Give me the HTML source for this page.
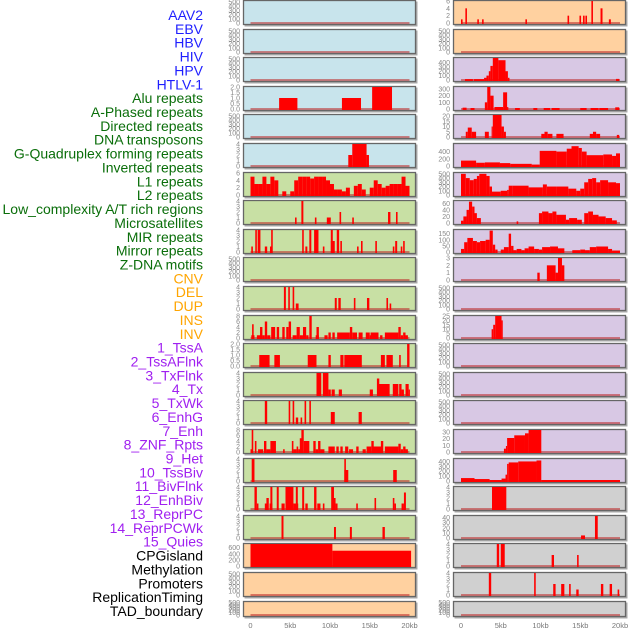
<!DOCTYPE html>
<html><head><meta charset="utf-8">
<style>
html,body{margin:0;padding:0;background:#fff;width:630px;height:630px;overflow:hidden}
svg{display:block;font-family:"Liberation Sans",sans-serif}
</style></head>
<body>
<svg id="chart" width="630" height="630" viewBox="0 0 630 630" xmlns="http://www.w3.org/2000/svg"></svg>
<script>
// ---- labels (column-major: left column 22, right column 22) ----
const labels = ["AAV2","EBV","HBV","HIV","HPV","HTLV-1","Alu repeats","A-Phased repeats","Directed repeats","DNA transposons","G-Quadruplex forming repeats","Inverted repeats","L1 repeats","L2 repeats","Low_complexity A/T rich regions","Microsatellites","MIR repeats","Mirror repeats","Z-DNA motifs","CNV","DEL","DUP","INS","INV","1_TssA","2_TssAFlnk","3_TxFlnk","4_Tx","5_TxWk","6_EnhG","7_Enh","8_ZNF_Rpts","9_Het","10_TssBiv","11_BivFlnk","12_EnhBiv","13_ReprPC","14_ReprPCWk","15_Quies","CPGisland","Methylation","Promoters","ReplicationTiming","TAD_boundary"];
const labelColors = ["#1f1fff","#1f1fff","#1f1fff","#1f1fff","#1f1fff","#1f1fff","#0a6e0a","#0a6e0a","#0a6e0a","#0a6e0a","#0a6e0a","#0a6e0a","#0a6e0a","#0a6e0a","#0a6e0a","#0a6e0a","#0a6e0a","#0a6e0a","#0a6e0a","#ffa500","#ffa500","#ffa500","#ffa500","#ffa500","#a020f0","#a020f0","#a020f0","#a020f0","#a020f0","#a020f0","#a020f0","#a020f0","#a020f0","#a020f0","#a020f0","#a020f0","#a020f0","#a020f0","#a020f0","#000","#000","#000","#000","#000"];
const panelBg = ["#c8e4ec","#c8e4ec","#c8e4ec","#c8e4ec","#c8e4ec","#c8e4ec","#c8e0a4","#c8e0a4","#c8e0a4","#c8e0a4","#c8e0a4","#c8e0a4","#c8e0a4","#c8e0a4","#c8e0a4","#c8e0a4","#c8e0a4","#c8e0a4","#c8e0a4","#ffd1a0","#ffd1a0","#ffd1a0","#ffd1a0","#ffd1a0","#d8c8e4","#d8c8e4","#d8c8e4","#d8c8e4","#d8c8e4","#d8c8e4","#d8c8e4","#d8c8e4","#d8c8e4","#d8c8e4","#d8c8e4","#d8c8e4","#d8c8e4","#d8c8e4","#d8c8e4","#d0d0d0","#d0d0d0","#d0d0d0","#d0d0d0","#d0d0d0"];
const xTickValues = [0,5,10,15,20];
const xTickLabels = ["0","5kb","10kb","15kb","20kb"];

// ---- y ranges / tick labels per panel ----
const emptyTicks = [0,100,200,300,400,500];
const yMax = [520,520,520,2,520,4,6,4,4,520,4,8,2,4,4,8,4,4,4,720,520,520,6,520,500,330,21,610,520,67,180,3,520,25,520,520,520,33,450,4,43,4,4,520];
const yTicks = [emptyTicks,emptyTicks,emptyTicks,[0.0,0.5,1.0,1.5,2.0],emptyTicks,[0,1,2,3,4],[0,2,4,6],[0,1,2,3,4],[0,1,2,3,4],emptyTicks,[0,1,2,3,4],[0,2,4,6,8],[0.0,0.5,1.0,1.5,2.0],[0,1,2,3,4],[0,1,2,3,4],[0,2,4,6,8],[0,1,2,3,4],[0,1,2,3,4],[0,1,2,3,4],[0,200,400,600],emptyTicks,emptyTicks,[0,2,4,6],emptyTicks,[0,100,200,300,400],[0,100,200,300],[0,5,10,15,20],[0,200,400],[0,100,200,300,400,500],[0,20,40,60],[0,50,100,150],[0,1,2,3],emptyTicks,[0,5,10,15,20,25],emptyTicks,emptyTicks,emptyTicks,[0,10,20,30],[0,100,200,300,400],[0,1,2,3,4],[0,10,20,30,40],[0,1,2,3,4],[0,1,2,3,4],emptyTicks];
const decimalTicks = [3,12];

// ---- series data: segments [startKb, endKb, value] ----
const segHIV = [[3.6,5.9,1],[11.5,13.9,1],[15.3,17.8,2]];
const segHTLV = [[12.3,12.8,2],[12.8,14.6,4],[14.6,14.9,2]];
const binsAlu = [5,3,3,5,3,5,4,0,1,0,1,4,5,5,5,4.5,5,5,5,4,3,1.5,1.5,1,2,0,2.5,3,1.5,0,2,4,3,2,2.5,3,3,3,5,2.5];
const segAPhased = [[5.6,5.8,1],[6.4,6.65,4],[8.1,8.3,1],[9.6,10.1,1],[11.2,11.4,2],[12.8,13.0,1],[17.3,17.6,2],[18.3,18.5,2]];
const segDirected = [[0.1,0.3,1],[0.6,0.8,4],[0.9,1.25,4],[1.8,2.1,1],[2.45,2.65,1],[2.6,2.8,4],[6.5,6.7,4],[6.9,7.15,1],[7.4,7.65,4],[8.0,8.55,4],[9.1,9.3,1],[10.1,10.35,4],[10.1,10.6,2],[10.85,11.15,4],[11.3,11.5,2],[13.4,13.6,1],[13.9,14.1,2],[15.7,15.9,2],[17.9,18.1,1],[18.2,18.45,2],[18.9,19.1,1],[19.2,19.4,2]];
const segGQuad = [[4.2,4.45,4],[4.75,4.95,4],[5.3,5.5,4],[5.7,6.05,1],[10.6,10.85,2],[11.05,11.35,2],[13.0,13.2,2],[14.65,14.95,2],[17.1,17.3,2],[17.5,17.7,1]];
const segInverted = [[0.1,0.5,1],[0.2,0.4,5],[0.8,1.3,1],[1.2,1.5,4],[1.5,1.8,1],[1.8,2.1,6],[2.1,2.5,1],[2.6,3.1,4],[3.3,3.6,4],[4.0,4.3,4],[4.5,4.8,4],[4.8,5.1,6],[5.3,5.8,1],[5.8,6.2,4],[6.2,6.6,1],[6.6,7.0,4],[7.0,7.3,1],[7.4,7.7,8],[8.2,8.6,1],[8.3,8.6,4],[9.3,9.7,1],[9.8,10.1,2],[10.3,10.6,2],[10.9,12.5,2],[12.5,12.8,4],[12.8,13.4,2],[13.6,14.1,2],[14.5,15.0,2],[15.0,15.3,1],[15.1,16.1,2],[16.3,16.6,1],[16.9,18.6,2],[18.6,18.9,4],[18.9,19.2,1],[19.2,19.5,2],[19.5,19.8,1]];
const segL1 = [[1.1,2.4,1],[3.0,3.7,1],[7.2,8.3,1],[9.8,10.1,1],[11.3,11.7,1],[11.8,14.0,1],[16.4,16.9,1],[17.1,17.9,1],[18.7,18.9,1],[19.7,20.0,2]];
const segL2 = [[8.3,8.9,4],[9.1,9.8,4],[9.8,10.1,1],[10.2,10.6,1],[11.1,11.5,1],[15.0,15.4,1],[15.9,16.2,3],[16.0,17.5,2],[17.9,18.6,2],[18.7,19.0,2],[19.0,19.3,1],[19.5,19.9,2],[19.9,20.0,1]];
const segLowComplex = [[1.8,2.1,4],[4.8,5.0,4],[5.3,5.5,4],[5.7,6.0,1],[6.3,6.5,1],[6.8,7.0,4],[7.4,7.6,4],[10.1,10.6,2],[13.6,14.0,2]];
const segMicrosat = [[0.0,0.2,1],[0.15,0.35,8],[0.55,0.75,4],[0.95,1.6,1],[1.7,2.0,4],[2.0,2.5,1],[2.5,3.2,4],[4.1,4.3,1],[5.2,5.4,4],[5.4,5.8,1],[5.8,6.0,2],[6.0,6.3,1],[6.2,6.5,5],[6.4,6.7,8],[6.7,7.4,4],[7.9,8.2,4],[8.2,8.5,1],[8.5,8.8,4],[8.8,9.3,1],[9.8,10.6,2],[10.8,11.1,2],[11.3,11.6,2],[11.9,12.3,2],[12.4,12.9,1],[13.3,13.6,2],[14.1,14.5,1],[14.6,15.2,2],[15.2,15.5,4],[15.4,16.5,2],[16.4,16.7,4],[16.9,18.6,2],[18.6,18.9,3],[18.9,19.2,1],[19.2,19.5,2],[19.5,19.8,1]];
const segMIR = [[0.15,0.5,4],[11.8,12.0,4],[11.8,12.3,2],[17.95,18.4,2]];
const segMirror = [[0.5,0.8,4],[0.8,1.0,1],[1.8,2.1,1],[2.0,2.3,2],[2.5,2.75,4],[2.4,2.75,1],[3.3,3.55,4],[3.9,4.3,1],[4.4,5.4,4],[5.4,6.0,1],[5.7,5.95,4],[6.5,6.75,4],[6.9,7.2,1],[8.0,8.3,4],[8.4,8.8,1],[9.1,9.3,1],[10.15,10.5,4],[10.4,10.7,2],[10.7,10.95,1],[13.3,13.5,1],[15.6,15.8,2],[17.9,18.1,2],[18.1,18.3,1],[19.0,19.3,1],[19.3,19.55,3]];
const segZDNA = [[3.9,4.15,4],[10.5,10.75,2],[12.5,12.75,2],[16.6,16.9,2]];
const segCNV = [[0.0,10.3,720],[10.3,20.2,500]];
const segINS = [[0.0,0.2,1],[0.55,0.75,4],[2.05,2.25,1],[2.65,2.85,1],[8.1,8.3,1],[13.4,13.6,2],[14.9,15.1,2],[15.35,15.55,2],[15.65,15.85,2],[16.4,16.6,6],[17.55,17.8,4],[18.6,18.85,1]];
const segTssA = [[0.5,1.5,20],[1.6,2.9,20],[2.9,3.2,50],[3.2,3.5,100],[3.5,3.7,200],[3.7,4.0,320],[4.0,4.7,500],[4.7,5.6,450],[5.6,5.9,200],[5.9,6.1,50],[19.5,19.9,25]];
const segTssAFlnk = [[0.2,0.7,20],[1.2,1.7,15],[3.0,3.3,100],[3.3,3.7,330],[3.7,4.1,200],[4.2,5.3,30],[5.3,5.8,250],[5.8,5.95,30],[6.8,7.4,15],[9.1,9.6,15],[10.4,11.2,15],[11.4,12.4,15],[15.0,15.8,15],[16.3,17.3,15],[17.4,18.5,15],[19.4,19.9,25]];
const segTxFlnk = [[0.6,0.85,5],[0.85,1.35,9],[1.35,1.9,5],[3.0,3.5,5],[3.85,4.0,10],[4.0,5.1,21],[5.1,5.4,10],[5.4,5.65,5],[10.1,10.5,3],[10.5,10.9,5],[10.9,11.5,3],[12.0,12.9,3],[16.2,16.6,3],[16.6,17.0,5],[17.0,17.5,3],[19.6,19.9,2]];
const segTx = [[0.0,1.9,150],[1.9,3.0,90],[3.0,4.9,100],[4.9,6.2,80],[6.2,8.9,60],[8.9,9.9,40],[9.9,12.0,420],[12.0,13.3,400],[13.3,13.9,480],[13.9,14.8,550],[14.8,15.2,500],[15.2,15.8,400],[15.8,17.9,300],[17.9,19.0,320],[19.0,19.5,280],[19.5,20.0,350]];
const segTxWk = [[0.0,0.6,500],[0.6,1.1,400],[1.1,1.6,350],[1.6,2.0,380],[2.0,2.3,450],[2.3,3.2,500],[3.2,3.6,450],[3.6,3.9,200],[3.9,5.0,80],[5.0,5.8,100],[5.8,6.0,120],[6.0,6.5,220],[6.5,8.5,220],[8.5,10.3,180],[10.3,10.8,250],[10.8,12.0,200],[12.0,13.5,200],[13.5,14.5,150],[14.5,15.0,100],[15.0,15.5,150],[15.5,16.0,300],[16.0,16.5,380],[16.5,17.0,400],[17.0,17.5,300],[17.5,18.5,350],[18.5,19.5,300],[19.5,20.0,280]];
const segEnhG = [[0.0,0.3,7],[0.3,0.7,20],[0.7,1.0,40],[1.0,1.4,65],[1.4,1.7,50],[1.7,2.0,30],[2.0,2.5,15],[7.0,7.2,5],[9.8,10.2,30],[10.2,11.0,35],[11.0,11.5,30],[11.5,12.0,35],[12.0,13.2,25],[13.2,13.6,10],[13.6,14.6,15],[14.6,15.2,10],[15.5,16.0,30],[16.0,16.6,35],[16.6,17.3,25],[17.3,18.2,20],[18.2,19.0,15],[19.0,19.6,8]];
const segEnh = [[0.0,0.4,25],[0.4,0.8,80],[0.8,1.5,115],[1.5,2.0,90],[2.0,2.4,80],[2.4,3.1,90],[3.1,3.6,100],[3.6,4.0,175],[4.0,4.3,60],[4.3,4.6,20],[5.0,5.4,20],[5.4,6.0,40],[6.0,6.3,150],[6.3,6.6,50],[6.6,7.0,15],[7.0,7.6,25],[7.6,8.0,15],[8.0,8.5,30],[8.5,9.2,45],[9.2,9.8,25],[9.8,10.2,20],[10.2,11.2,40],[11.2,12.2,45],[12.2,13.0,30],[14.0,15.0,15],[15.0,15.6,20],[15.6,16.2,15],[16.2,17.0,40],[17.0,18.5,45],[18.5,19.0,25],[19.0,20.0,12]];
const segZNF = [[9.6,9.9,1],[10.8,11.9,2],[11.9,12.2,1],[12.2,12.7,3],[12.7,13.0,2]];
const segTssBiv = [[3.85,4.05,10],[4.05,4.3,15],[4.3,5.1,25],[5.1,5.25,20]];
const segReprPCWk = [[5.4,5.65,5],[5.65,5.8,9],[5.8,6.7,21],[6.7,8.05,25],[8.05,8.5,28],[8.5,10.1,33]];
const segQuies = [[0.0,1.7,60],[1.7,3.6,40],[3.6,5.1,20],[5.1,5.6,50],[5.6,5.8,130],[5.8,6.0,350],[6.0,7.2,380],[7.2,9.5,400],[9.5,10.1,420],[10.1,20.0,20]];
const segCPG = [[3.9,5.7,4]];
const segMeth = [[15.1,15.6,5],[16.85,17.2,43]];
const segPromoters = [[4.5,4.8,4],[5.0,5.5,4],[11.4,11.7,2],[14.6,14.8,2]];
const segRepTiming = [[3.5,3.8,4],[9.2,9.4,4],[11.6,11.9,2],[12.6,13.0,2],[13.6,13.8,2],[14.5,14.8,1],[17.6,17.9,2],[18.7,19.0,2],[19.7,19.9,1]];

function binsToSegs(b){const out=[];for(let i=0;i<b.length;i++){if(b[i]>0)out.push([i*0.5,i*0.5+0.5,b[i]]);}return out;}
const panelSegs = [[],[],[],segHIV,[],segHTLV,binsToSegs(binsAlu),segAPhased,segDirected,[],segGQuad,segInverted,segL1,segL2,segLowComplex,segMicrosat,segMIR,segMirror,segZDNA,segCNV,[],[],segINS,[],segTssA,segTssAFlnk,segTxFlnk,segTx,segTxWk,segEnhG,segEnh,segZNF,[],segTssBiv,[],[],[],segReprPCWk,segQuies,segCPG,segMeth,segPromoters,segRepTiming,[]];

const NS="http://www.w3.org/2000/svg";
const svg=document.getElementById('chart');
function mk(tag,attrs,parent){const e=document.createElementNS(NS,tag);for(const k in attrs)e.setAttribute(k,attrs[k]);(parent||svg).appendChild(e);return e;}

// labels
labels.forEach((t,i)=>{
  const e=mk('text',{x:203,y:(20+i*13.86).toFixed(1),'text-anchor':'end','font-size':'14',fill:labelColors[i]});
  e.textContent=t;
  
  
});

const PW=173, LX=[243,453], X0=[250.5,461], KB=7.95;
function xScale(kb,col){return X0[col]+kb*KB;}
for(let p=0;p<44;p++){
  const col=p<22?0:1, row=p%22;
  const top=Math.round(row*28.6), h=row===21?16:25, bottom=top+h;
  const g=mk('g',{});
  
  
  mk('rect',{x:LX[col]+1.5,y:top+1.5,width:PW,height:h,fill:'#aaa'},g);
  const bg=mk('rect',{x:LX[col]+0.5,y:top+0.5,width:PW-1,height:h-1,fill:panelBg[p],stroke:'#666','stroke-width':1.3},g);
  
  
  const y0=bottom-2, yTop=top+1, ym=yMax[p];
  function yScale(v){return y0-Math.min(v,ym)/ym*(y0-yTop);}
  // baseline
  const bl=mk('rect',{x:xScale(0,col),y:y0-1,width:xScale(20,col)-xScale(0,col),height:2,fill:'rgba(190,40,40,0.55)'},g);
  
  
  panelSegs[p].forEach(s=>{
    const x1=xScale(s[0],col), x2=xScale(s[1],col), yv=yScale(s[2]);
    const r=mk('rect',{x:x1.toFixed(2),y:yv.toFixed(2),width:Math.max(1.2,x2-x1).toFixed(2),height:(y0-yv+1).toFixed(2),fill:'#ff0000'},g);
    
    
  });
  const dec=decimalTicks.includes(p);
  yTicks[p].forEach(v=>{
    const t=mk('text',{x:LX[col]-3,y:(yScale(v)+2.5).toFixed(1),'text-anchor':'end','font-size':'7',fill:'#888'},g);
    t.textContent=dec?v.toFixed(1):String(v);
    
    
  });
}
// x axis labels
[0,1].forEach(col=>{
  xTickValues.forEach((v,i)=>{
    const t=mk('text',{x:xScale(v,col).toFixed(1),y:628,'text-anchor':'middle','font-size':'7.5',fill:'#777'});
    t.textContent=xTickLabels[i];
    
    
  });
});
</script>
</body></html>
